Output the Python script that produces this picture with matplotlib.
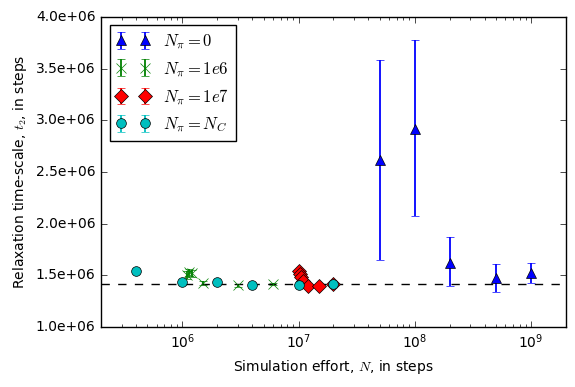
import matplotlib
matplotlib.use("Agg")
import matplotlib.pyplot as plt
from matplotlib.ticker import FormatStrFormatter

plt.style.use('classic')

# N_pi = 0
x0 = [5e7, 1e8, 2e8, 5e8, 1e9]
y0 = [2.615e6, 2.92e6, 1.622e6, 1.471e6, 1.52e6]
lo0 = [1.65e6, 2.075e6, 1.397e6, 1.339e6, 1.423e6]
hi0 = [3.585e6, 3.775e6, 1.868e6, 1.607e6, 1.617e6]

# N_pi = 1e6
x1 = [1.1e6, 1.15e6, 1.2e6, 1.5e6, 3e6, 6e6]
y1 = [1.50e6, 1.53e6, 1.52e6, 1.43e6, 1.405e6, 1.415e6]
e1 = [0.04e6, 0.035e6, 0.035e6, 0.02e6, 0.015e6, 0.012e6]

# N_pi = 1e7
x2 = [1.0e7, 1.02e7, 1.05e7, 1.1e7, 1.2e7, 1.5e7, 2e7]
y2 = [1.545e6, 1.51e6, 1.48e6, 1.45e6, 1.40e6, 1.40e6, 1.415e6]
e2 = [0.02e6, 0.02e6, 0.02e6, 0.015e6, 0.012e6, 0.01e6, 0.01e6]

# N_pi = N_C
x3 = [4e5, 1e6, 2e6, 4e6, 1e7, 2e7]
y3 = [1.542e6, 1.433e6, 1.436e6, 1.405e6, 1.405e6, 1.416e6]
e3 = [0.015e6, 0.01e6, 0.008e6, 0.006e6, 0.005e6, 0.005e6]

ref_value = 1.415e6

fig = plt.figure(figsize=(5.75, 3.87), dpi=100)
ax = fig.add_axes([0.176, 0.155, 0.808, 0.801])

yerr0 = [[y - l for y, l in zip(y0, lo0)], [h - y for y, h in zip(y0, hi0)]]
ax.errorbar(x0, y0, yerr=yerr0, fmt='^', color='b', ecolor='b', markersize=7,
            capsize=3, elinewidth=1.3, label=r'$N_\pi=0$')
ax.errorbar(x1, y1, yerr=e1, fmt='x', color='g', ecolor='g', markersize=7,
            capsize=3, elinewidth=1.3, label=r'$N_\pi=1e6$')
ax.errorbar(x2, y2, yerr=e2, fmt='D', color='r', ecolor='r', markersize=7,
            capsize=3, elinewidth=1.3, label=r'$N_\pi=1e7$')
ax.errorbar(x3, y3, yerr=e3, fmt='o', color='c', ecolor='c', markersize=7,
            capsize=3, elinewidth=1.3, label=r'$N_\pi=N_C$')
ax.axhline(ref_value, color='k', linestyle='--')

ax.set_xscale('log')
ax.set_xlim(2e5, 2e9)
ax.set_ylim(1.0e6, 4.0e6)
ax.yaxis.set_major_formatter(FormatStrFormatter('%.1e'))
ax.tick_params(labelsize=10)
ax.set_xlabel(r'Simulation effort, $N$, in steps', fontsize=10)
ax.set_ylabel(r'Relaxation time-scale, $t_2$, in steps', fontsize=10)
ax.legend(loc='upper left', fontsize=12, numpoints=2)

fig.savefig('out.png', dpi=100)
